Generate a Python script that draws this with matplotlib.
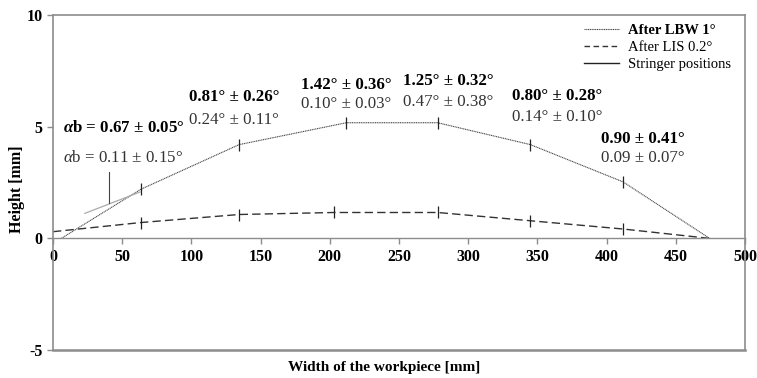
import matplotlib
matplotlib.use("Agg")
import matplotlib.pyplot as plt
from matplotlib.lines import Line2D

plt.rcParams['font.family'] = ['Liberation Serif', 'DejaVu Serif']
plt.rcParams['mathtext.fontset'] = 'custom'
plt.rcParams['mathtext.rm'] = 'Liberation Serif'
plt.rcParams['mathtext.it'] = 'Liberation Serif:italic'
plt.rcParams['mathtext.bf'] = 'Liberation Serif:bold:italic'
plt.rcParams['axes.unicode_minus'] = False

# profile after laser beam welding (dotted)
lbw_x = [6, 63.5, 134.5, 212, 278, 345, 412, 474.5]
lbw_y = [0, 2.2, 4.2, 5.18, 5.18, 4.2, 2.53, 0]

# profile after laser induced straightening (dashed)
lis_x = [0, 63.5, 134.5, 203, 278, 345, 412, 474.5]
lis_y = [0.3, 0.71, 1.07, 1.16, 1.16, 0.79, 0.42, 0]

# angle annotations: (x, y of first line, y of second line, bold text, plain text)
ann_x = [7, 98, 179, 253, 332, 396]
ann_y_bold = [4.77, 6.16, 6.71, 6.86, 6.19, 4.28]
ann_y_plain = [3.4, 5.11, 5.82, 5.92, 5.26, 3.4]
ann_bold = [r"$\mathbf{\alpha}$b = 0.67 ± 0.05°", "0.81° ± 0.26°", "1.42° ± 0.36°",
            "1.25° ± 0.32°", "0.80° ± 0.28°", "0.90 ± 0.41°"]
ann_plain = [r"$\alpha$b = 0.11 ± 0.15°", "0.24° ± 0.11°", "0.10° ± 0.03°",
             "0.47° ± 0.38°", "0.14° ± 0.10°", "0.09 ± 0.07°"]

# tangent + leader line for the alpha_b annotation
tangent_x = [23, 63]
tangent_y = [1.12, 2.08]
leader_x = [40.6, 40.6]
leader_y = [1.58, 2.97]

fig = plt.figure(figsize=(7.57, 3.78), dpi=100)
ax = fig.add_axes([0.070, 0.074, 0.914, 0.886])

ax.plot(lbw_x, lbw_y, color='#444444', lw=0.8, linestyle=(0, (1, 0.6)),
        marker='|', markersize=9, markeredgewidth=0.9, markeredgecolor='#222222',
        markevery=slice(1, -1))
ax.plot(lis_x, lis_y, color='#333333', lw=1.0, linestyle=(0, (6, 3)),
        marker='|', markersize=9, markeredgewidth=0.9, markeredgecolor='#222222',
        markevery=slice(1, -1))

ax.plot(tangent_x, tangent_y, color='#aaaaaa', lw=0.9)
ax.plot(leader_x, leader_y, color='#444444', lw=0.8)

for x, yb, yp, tb, tp in zip(ann_x, ann_y_bold, ann_y_plain, ann_bold, ann_plain):
    ax.text(x, yb, tb, fontsize=12.2, fontweight='bold', va='baseline', ha='left')
    ax.text(x, yp, tp, fontsize=12.2, color='#333333', va='baseline', ha='left')

ax.set_xlim(0, 500)
ax.set_ylim(-5, 10)
ax.set_xticks(range(0, 501, 50))
ax.set_yticks([-5, 0, 5, 10])

gray = '#8c8c8c'
for s in ['top', 'right', 'left']:
    ax.spines[s].set_color(gray)
    ax.spines[s].set_linewidth(1.2)
ax.spines['bottom'].set_position(('data', 0))
ax.spines['bottom'].set_color(gray)
ax.spines['bottom'].set_linewidth(1.0)
ax.axhline(-5, color=gray, lw=1.8, clip_on=False)

ax.tick_params(axis='both', direction='out', length=4, color=gray, width=1.0,
               labelsize=11.5)
for lab in ax.get_xticklabels() + ax.get_yticklabels():
    lab.set_fontweight('bold')

fig.text(0.023, 0.50, 'Height [mm]', rotation=90, ha='center', va='center',
         fontsize=11.5, fontweight='bold')
fig.text(0.507, 0.027, 'Width of the workpiece [mm]', ha='center', va='center',
         fontsize=11, fontweight='bold')

handles = [
    Line2D([], [], color='#444444', lw=0.8, linestyle=(0, (1, 0.6))),
    Line2D([], [], color='#333333', lw=1.0, linestyle=(0, (4, 2.5))),
    Line2D([], [], color='#222222', lw=1.0),
]
leg = ax.legend(handles, ['After LBW 1°', 'After LIS 0.2°', 'Stringer positions'],
                loc='upper right', bbox_to_anchor=(0.997, 1.008), frameon=False,
                fontsize=10.5, handlelength=2.4, handletextpad=0.6,
                labelspacing=0.25, borderpad=0.3)
leg.get_texts()[0].set_fontweight('bold')

fig.savefig('out.png', dpi=100)
